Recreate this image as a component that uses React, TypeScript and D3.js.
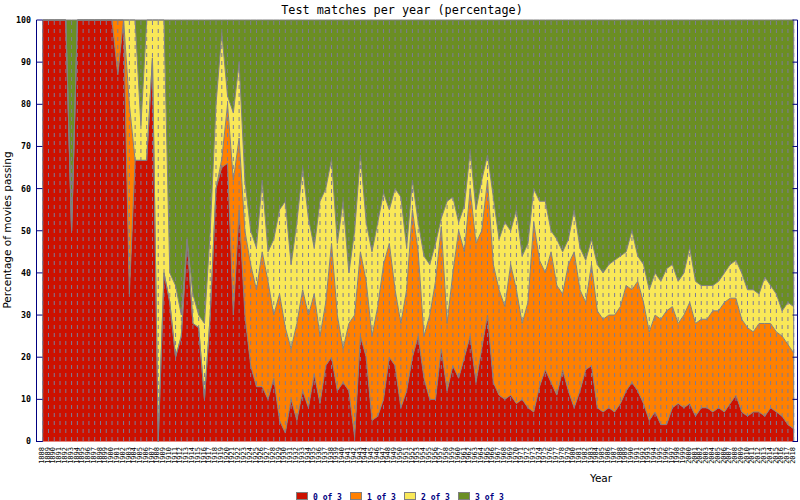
import * as d3 from 'd3';

const firstYear = 1888;
const lastYear = 2018;
const years = d3.range(firstYear, lastYear + 1);

// percentage of movies per year passing 0, 1, 2 or 3 of the test's rules
const zeroOf3 = [
  100, 100, 100, 100, 100, 50, 100, 100, 100, 100,
  100, 100, 100, 87, 100, 35, 66.7, 66.7, 66.7, 91,
  0, 40, 33, 20, 25, 48, 28, 27, 10, 30,
  60, 65, 66, 30, 55, 30, 18, 13, 13, 10,
  15, 5, 2, 10, 5, 12, 8, 16, 9, 18,
  20, 12, 14, 12, 1, 25, 20, 5, 6, 10,
  20, 18, 8, 12, 20, 25, 15, 10, 10, 22,
  12, 18, 15, 20, 25, 14, 22, 30, 14, 11,
  10, 11, 9, 10, 8, 7, 13, 17, 14, 11,
  17, 12, 8, 12, 17, 18, 8, 7, 8, 7,
  9, 12, 14, 12, 9, 5, 7, 4, 4, 8,
  9, 8, 9, 6, 8, 8, 7, 8, 7, 9,
  11, 7, 6, 7, 7, 6, 8, 7, 6, 4, 3,
];
const oneOf3 = [
  0, 0, 0, 0, 0, 0, 0, 0, 0, 0,
  0, 0, 0, 13, 0, 45, 0, 0, 0, 0,
  0, 0, 0, 0, 0, 0, 0, 0, 0, 0,
  0, 2, 14, 32, 17, 20, 24, 23, 32, 28,
  15, 30, 25, 12, 23, 24, 22, 19, 16, 15,
  27, 18, 8, 16, 29, 20, 18, 20, 26, 32,
  27, 18, 20, 24, 35, 20, 10, 20, 28, 29,
  16, 22, 35, 25, 35, 33, 28, 32, 28, 25,
  22, 31, 27, 18, 25, 45, 30, 23, 31, 26,
  18, 30, 37, 24, 16, 24, 23, 22, 22, 23,
  23, 25, 22, 26, 24, 21, 23, 25, 27, 24,
  19, 22, 24, 22, 21, 21, 24, 23, 26, 25,
  23, 22, 21, 19, 21, 22, 20, 19, 19, 19, 18,
];
const twoOf3 = [
  0, 0, 0, 0, 0, 0, 0, 0, 0, 0,
  0, 0, 0, 0, 0, 20, 33.3, 8.3, 33.3, 9,
  100, 60, 7, 17, 5, 0, 7, 3, 18, 20,
  20, 30, 2, 16, 18, 12, 8, 10, 17, 7,
  18, 20, 30, 20, 24, 29, 23, 11, 32, 27,
  20, 17, 35, 12, 20, 23, 14, 20, 20, 17,
  8, 24, 30, 10, 7, 7, 19, 12, 9, 2,
  29, 18, 2, 11, 9, 8, 12, 6, 16, 12,
  20, 8, 19, 16, 14, 8, 14, 17, 5, 11,
  10, 6, 10, 10, 10, 6, 11, 11, 12, 13,
  12, 8, 14, 6, 9, 10, 10, 9, 10, 10,
  10, 10, 13, 10, 8, 8, 6, 7, 7, 8,
  9, 11, 9, 10, 7, 11, 9, 9, 6, 10, 11,
];
const threeOf3 = [
  0, 0, 0, 0, 0, 50, 0, 0, 0, 0,
  0, 0, 0, 0, 0, 0, 0, 25, 0, 0,
  0, 0, 60, 63, 70, 52, 65, 70, 72, 50,
  20, 3, 18, 22, 10, 38, 50, 54, 38, 55,
  52, 45, 43, 58, 48, 35, 47, 54, 43, 40,
  33, 53, 43, 60, 50, 32, 48, 55, 48, 41,
  45, 40, 42, 54, 38, 48, 56, 58, 53, 47,
  43, 42, 48, 44, 31, 45, 38, 32, 42, 52,
  48, 50, 45, 56, 53, 40, 43, 43, 50, 52,
  55, 52, 45, 54, 57, 52, 58, 60, 58, 57,
  56, 55, 50, 56, 58, 64, 60, 62, 59, 58,
  62, 60, 54, 62, 63, 63, 63, 62, 60, 58,
  57, 60, 64, 64, 65, 61, 63, 65, 69, 67, 68,
];

const seriesNames = ['0 of 3', '1 of 3', '2 of 3', '3 of 3'];
const seriesColors = ['#cc1100', '#ff8000', '#f9e858', '#6b8e23'];
const yTicks = [0, 10, 20, 30, 40, 50, 60, 70, 80, 90, 100];

const W = 800;
const H = 500;
const frame = { left: 36.5, right: 797.5, top: 20, bottom: 441.5 };

export default function App() {
  const rows = years.map((year, i) => ({
    year,
    s0: zeroOf3[i],
    s1: oneOf3[i],
    s2: twoOf3[i],
    s3: threeOf3[i],
  }));
  const keys = ['s0', 's1', 's2', 's3'];
  const stacked = d3.stack<any>().keys(keys)(rows);

  const x = d3
    .scalePoint<number>()
    .domain(years)
    .range([42.7, 793.7]);
  const y = d3.scaleLinear().domain([0, 100]).range([frame.bottom, frame.top]);

  const area = d3
    .area<any>()
    .x((d) => x(d.data.year)!)
    .y0((d) => y(d[0]))
    .y1((d) => y(d[1]));
  const topLine = d3
    .line<any>()
    .x((d) => x(d.data.year)!)
    .y((d) => y(d[1]));

  const mono = '"DejaVu Sans Mono", monospace';
  const sans = '"DejaVu Sans", sans-serif';

  return (
    <div style={{ position: 'fixed', left: 0, top: 0 }}>
      <svg width={W} height={H} style={{ display: 'block', background: '#fff' }}>
        <text x={402} y={14} textAnchor="middle" fontFamily={mono} fontSize={11.8}>
          Test matches per year (percentage)
        </text>

        {stacked.map((s, k) => (
          <path key={k} d={area(s)!} fill={seriesColors[k]} />
        ))}
        {stacked.map((s, k) => (
          <path key={'l' + k} d={topLine(s)!} fill="none" stroke="#808080" strokeWidth={1} />
        ))}
        <line
          x1={x(firstYear)}
          x2={x(firstYear)}
          y1={frame.top}
          y2={frame.bottom}
          stroke="#808080"
        />
        <line
          x1={x(lastYear)}
          x2={x(lastYear)}
          y1={frame.top}
          y2={frame.bottom}
          stroke="#808080"
        />

        {years.map((yr) => (
          <line
            key={'g' + yr}
            x1={x(yr)}
            x2={x(yr)}
            y1={frame.top + 1}
            y2={frame.bottom}
            stroke="#7c7c98"
            strokeWidth={1}
            strokeDasharray="4 4"
          />
        ))}

        {/* axes */}
        <line x1={frame.left} x2={frame.left} y1={frame.top} y2={frame.bottom + 0.5} stroke="#000080" />
        <line x1={frame.right} x2={frame.right} y1={frame.top} y2={frame.bottom + 0.5} stroke="#000080" />
        <line x1={frame.left} x2={x(firstYear)} y1={frame.bottom} y2={frame.bottom} stroke="#000080" />
        <line x1={x(lastYear)} x2={frame.right} y1={frame.bottom} y2={frame.bottom} stroke="#000080" />
        {yTicks.map((t) => (
          <g key={'t' + t}>
            <line x1={frame.left} x2={frame.left + 6} y1={y(t)} y2={y(t)} stroke="#000080" />
            <line x1={frame.right - 5} x2={frame.right} y1={y(t)} y2={y(t)} stroke="#000080" />
            <text
              x={31}
              y={y(t)}
              dy="0.35em"
              textAnchor="end"
              fontFamily={mono}
              fontWeight="bold"
              fontSize={8.3}
            >
              {t}
            </text>
          </g>
        ))}

        {years.map((yr) => (
          <text
            key={'x' + yr}
            transform={`translate(${x(yr)! - 1.3},447) rotate(-90)`}
            dy="0.35em"
            textAnchor="end"
            fontFamily={mono}
            fontSize={7}
          >
            {yr}
          </text>
        ))}

        <text
          transform={`translate(11,230) rotate(-90)`}
          textAnchor="middle"
          fontFamily={sans}
          fontSize={10.5}
        >
          Percentage of movies passing
        </text>
        <text x={601} y={482} textAnchor="middle" fontFamily={sans} fontSize={10.5}>
          Year
        </text>

        {seriesNames.map((name, k) => (
          <g key={name} transform={`translate(${296 + k * 54},492)`}>
            <rect x={0.5} y={0.5} width={11} height={7} fill={seriesColors[k]} stroke="#808080" />
            <text x={17} y={7.5} fontFamily={mono} fontWeight="bold" fontSize={8} fill="#000080">
              {name}
            </text>
          </g>
        ))}
      </svg>
    </div>
  );
}
